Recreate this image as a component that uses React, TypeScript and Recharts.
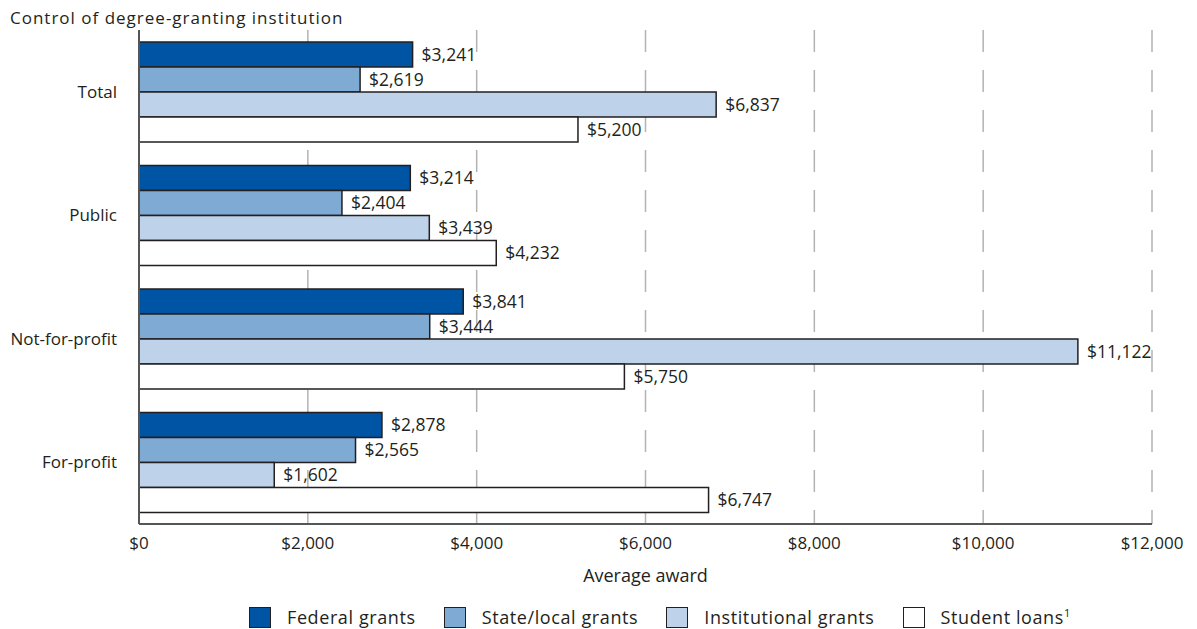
import React from 'react';
import { BarChart, Bar, XAxis, YAxis, CartesianGrid, LabelList } from 'recharts';

const categories = ['Total', 'Public', 'Not-for-profit', 'For-profit'];
const federalGrants = [3241, 3214, 3841, 2878];
const stateLocalGrants = [2619, 2404, 3444, 2565];
const institutionalGrants = [6837, 3439, 11122, 1602];
const studentLoans = [5200, 4232, 5750, 6747];
const xTicks = [0, 2000, 4000, 6000, 8000, 10000, 12000];

const series = [
  { key: 'federal', name: 'Federal grants', fill: '#0054a4' },
  { key: 'state', name: 'State/local grants', fill: '#7faad3' },
  { key: 'inst', name: 'Institutional grants', fill: '#bed3e9' },
  { key: 'loans', name: 'Student loans', fill: '#ffffff' },
];

const data = categories.map((c, i) => ({
  name: c,
  federal: federalGrants[i],
  state: stateLocalGrants[i],
  inst: institutionalGrants[i],
  loans: studentLoans[i],
}));

const FONT = '"Open Sans", Lato, sans-serif';
const TEXT = '#231f20';
const money = (v: any) => '$' + Number(v).toLocaleString('en-US');

export default function App() {
  return (
    <div style={{ position: 'absolute', left: 0, top: 0, width: 1197, height: 629, background: '#fff', fontFamily: FONT, color: TEXT }}>
      <div style={{ position: 'absolute', left: 10, top: 6, fontSize: 17, letterSpacing: 1 }}>Control of degree-granting institution</div>
      <BarChart
        width={1197}
        height={629}
        data={data}
        layout="vertical"
        margin={{ top: 30, right: 45, bottom: 75, left: 0 }}
        barCategoryGap={12}
        barGap={0}
      >
        <CartesianGrid vertical horizontal={false} stroke="#b3b3b3" strokeWidth={1.5} strokeDasharray="22 18" />
        <XAxis
          type="number"
          domain={[0, 12000]}
          ticks={xTicks}
          tickFormatter={money}
          tickLine={false}
          axisLine={{ stroke: '#555', strokeWidth: 2 }}
          tick={{ fill: TEXT, fontSize: 17, fontFamily: FONT }}
          tickMargin={7}
          label={{ value: 'Average award', position: 'insideBottom', offset: -28, fill: TEXT, fontSize: 18, fontFamily: FONT }}
        />
        <YAxis
          type="category"
          dataKey="name"
          width={139}
          tickLine={false}
          axisLine={{ stroke: '#555', strokeWidth: 2 }}
          tick={{ fill: TEXT, fontSize: 17, fontFamily: FONT }}
          tickMargin={16}
        />
        {series.map((s) => (
          <Bar key={s.key} dataKey={s.key} name={s.name} fill={s.fill} stroke="#231f20" strokeWidth={1.5} isAnimationActive={false}>
            <LabelList dataKey={s.key} position="right" offset={9} formatter={money} fill={TEXT} fontSize={17.5} fontFamily={FONT} />
          </Bar>
        ))}
      </BarChart>
      <div style={{ position: 'absolute', top: 605, left: 249, display: 'flex', fontSize: 18, letterSpacing: 0.6, lineHeight: '24px' }}>
        {series.map((s, i) => (
          <div key={s.key} style={{ display: 'flex', alignItems: 'center', marginLeft: i === 0 ? 0 : 28 }}>
            <span style={{ display: 'inline-block', width: 20, height: 19, background: s.fill, border: '1px solid #231f20', marginRight: 16 }} />
            <span>
              {s.name}
              {s.key === 'loans' ? <sup style={{ fontSize: 11, lineHeight: 0 }}>1</sup> : null}
            </span>
          </div>
        ))}
      </div>
    </div>
  );
}
